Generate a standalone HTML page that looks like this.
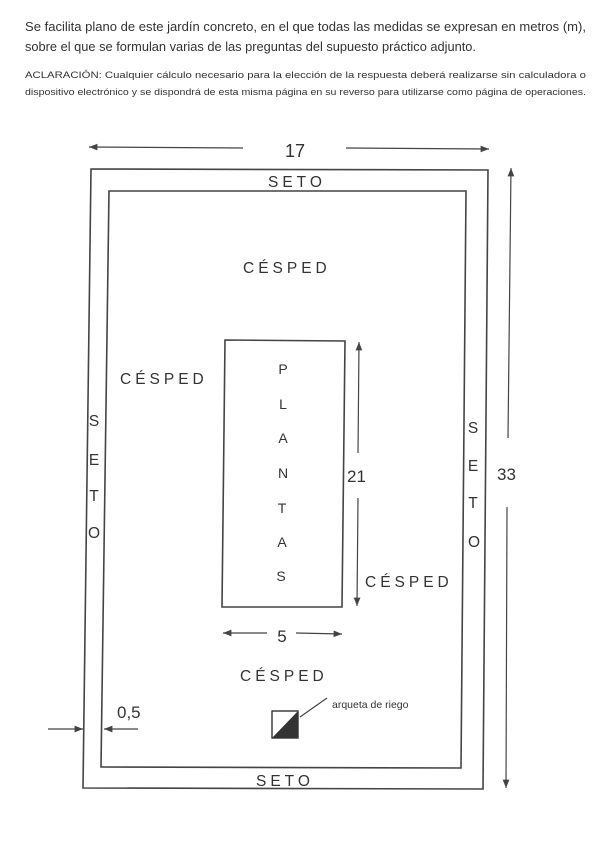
<!DOCTYPE html>
<html><head><meta charset="utf-8"><style>
html,body{margin:0;padding:0;background:#fff;}
body{width:616px;height:848px;overflow:hidden;}
svg{display:block;}
text{font-family:"Liberation Sans",sans-serif;fill:#333;}
</style></head><body>
<svg width="616" height="848" viewBox="0 0 616 848" xmlns="http://www.w3.org/2000/svg">
<defs>
<marker id="a" viewBox="0 0 10 10" refX="10" refY="5" markerWidth="7" markerHeight="7" orient="auto-start-reverse"><path d="M0,1 L10,5 L0,9 z" fill="#444"/></marker>
</defs>
<text x="25" y="31" font-size="12.5" fill="#444" textLength="561" lengthAdjust="spacingAndGlyphs">Se facilita plano de este jardín concreto, en el que todas las medidas se expresan en metros (m),</text>
<text x="25" y="51" font-size="12.5" fill="#444" textLength="451" lengthAdjust="spacingAndGlyphs">sobre el que se formulan varias de las preguntas del supuesto práctico adjunto.</text>
<text x="25" y="78" font-size="9.3" fill="#333" textLength="561" lengthAdjust="spacingAndGlyphs">ACLARACIÓN: Cualquier cálculo necesario para la elección de la respuesta deberá realizarse sin calculadora o</text>
<text x="25" y="95" font-size="9.3" fill="#333" textLength="561" lengthAdjust="spacingAndGlyphs">dispositivo electrónico y se dispondrá de esta misma página en su reverso para utilizarse como página de operaciones.</text>

<g stroke="#444" stroke-width="1.6" fill="none">
<polygon points="91,169 488,170 483,789 83,788"/>
<polygon points="109,191 466,191 461,768 101,767"/>
<polygon points="225,340 345,341 342,607 222,607"/>
</g>
<g stroke="#444" stroke-width="1.2" fill="none">
<line x1="243" y1="148" x2="89" y2="147" marker-end="url(#a)"/>
<line x1="346" y1="148" x2="489" y2="149" marker-end="url(#a)"/>
<line x1="508" y1="438" x2="511" y2="168" marker-end="url(#a)"/>
<line x1="507" y1="507" x2="506" y2="788" marker-end="url(#a)"/>
<line x1="358" y1="453" x2="359" y2="342" marker-end="url(#a)"/>
<line x1="358" y1="498" x2="357" y2="606" marker-end="url(#a)"/>
<line x1="267" y1="633" x2="223" y2="633" marker-end="url(#a)"/>
<line x1="296" y1="633" x2="342" y2="634" marker-end="url(#a)"/>
<line x1="48" y1="729" x2="83" y2="729" marker-end="url(#a)"/>
<line x1="138" y1="729" x2="104" y2="729" marker-end="url(#a)"/>
<line x1="327" y1="698" x2="300" y2="717"/>
</g>
<rect x="272" y="711" width="26" height="27" fill="#fff" stroke="#333" stroke-width="1.4"/>
<polygon points="298,711 298,738 272,738" fill="#333"/>
<text x="332" y="708" font-size="10.5" fill="#333">arqueta de riego</text>

<text x="295" y="157" font-size="18" text-anchor="middle">17</text>
<text x="497" y="480" font-size="17">33</text>
<text x="347" y="482" font-size="17">21</text>
<text x="282" y="642" font-size="17" text-anchor="middle">5</text>
<text x="117" y="718" font-size="17">0,5</text>

<g font-size="15.5" letter-spacing="4">
<text x="268" y="187">SETO</text>
<text x="256" y="786">SETO</text>
<text x="243" y="273">CÉSPED</text>
<text x="120" y="384">CÉSPED</text>
<text x="365" y="587">CÉSPED</text>
<text x="240" y="681">CÉSPED</text>
</g>
<g font-size="15.5" text-anchor="middle">
<text x="94" y="426">S</text><text x="94" y="465">E</text><text x="94" y="501">T</text><text x="94" y="538">O</text>
<text x="473" y="433">S</text><text x="473" y="471">E</text><text x="473" y="508">T</text><text x="474" y="547">O</text>
</g>
<g font-size="14" text-anchor="middle">
<text x="283" y="374">P</text><text x="283" y="409">L</text><text x="283" y="443">A</text><text x="283" y="478">N</text><text x="282" y="513">T</text><text x="282" y="547">A</text><text x="281" y="581">S</text>
</g>
</svg>
</body></html>
